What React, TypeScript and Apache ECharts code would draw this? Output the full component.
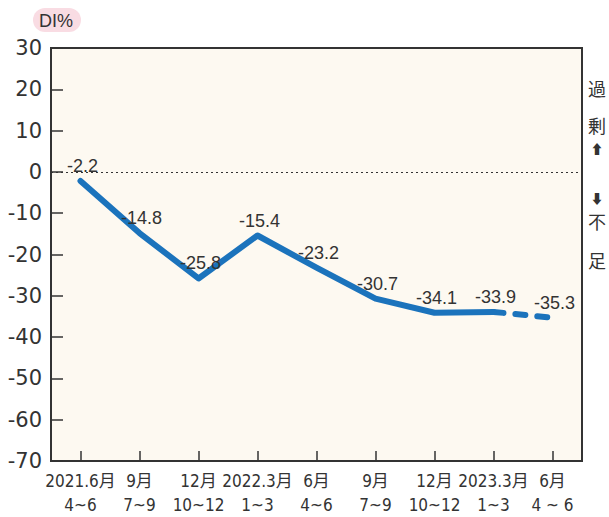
import React, { useEffect, useRef } from "react";
import * as echarts from "echarts";

const categories = [
  "2021.6月\n4~6",
  "9月\n7~9",
  "12月\n10~12",
  "2022.3月\n1~3",
  "6月\n4~6",
  "9月\n7~9",
  "12月\n10~12",
  "2023.3月\n1~3",
  "6月\n4 ~ 6",
];
const actualValues = [-2.2, -14.8, -25.8, -15.4, -23.2, -30.7, -34.1, -33.9, null];
const forecastValues = [null, null, null, null, null, null, null, -33.9, -35.3];
const yMin = -70;
const yMax = 30;
const yInterval = 10;

const BLUE = "#1b73bc";
const DARK = "#333333";

export default function App() {
  const ref = useRef<HTMLDivElement>(null);
  useEffect(() => {
    document.body.style.margin = "0";
    const chart = echarts.init(ref.current!, null, { renderer: "svg" });
    const labelStyle = {
      show: true,
      position: "top" as const,
      distance: 6,
      offset: [2, 0],
      fontSize: 18,
      color: DARK,
      fontFamily: "Liberation Sans, Arial, sans-serif",
    };
    chart.setOption({
      animation: false,
      backgroundColor: "#ffffff",
      grid: {
        left: 51,
        top: 48,
        width: 531,
        height: 416,
        show: true,
        z: 0,
        backgroundColor: "#fdf9f1",
        borderColor: DARK,
        borderWidth: 2,
      },
      xAxis: {
        type: "category",
        data: categories,
        boundaryGap: true,
        z: 5,
        axisLine: { onZero: false, lineStyle: { color: DARK, width: 2 } },
        axisTick: { show: true, inside: true, alignWithLabel: true, length: 10, lineStyle: { color: DARK, width: 1.5 } },
        axisLabel: {
          interval: 0,
          color: DARK,
          fontSize: 17,
          lineHeight: 24,
          margin: 8,
          fontFamily: "DejaVu Sans Condensed, Liberation Sans Narrow, Noto Sans CJK JP, sans-serif",
        },
        splitLine: { show: false },
      },
      yAxis: {
        type: "value",
        min: yMin,
        max: yMax,
        interval: yInterval,
        z: 5,
        axisLine: { show: true, lineStyle: { color: DARK, width: 2 } },
        axisTick: { show: true, inside: true, length: 12, lineStyle: { color: DARK, width: 1.5 } },
        axisLabel: {
          color: DARK,
          fontSize: 21,
          margin: 9,
          fontFamily: "DejaVu Sans, sans-serif",
        },
        splitLine: { show: false },
      },
      graphic: [
        {
          type: "rect",
          shape: { x: 33, y: 8, width: 48, height: 24, r: 12 },
          style: { fill: "#f9dce3" },
        },
        {
          type: "text",
          x: 56,
          y: 21,
          style: {
            text: "DI%",
            fontSize: 18,
            fill: DARK,
            align: "center",
            verticalAlign: "middle",
            fontFamily: "Liberation Sans, Arial, sans-serif",
          },
        },
        ...[
          { t: "過", y: 88 },
          { t: "剰", y: 125 },
          { t: "⬆", y: 148 },
          { t: "⬇", y: 197 },
          { t: "不", y: 221 },
          { t: "足", y: 260 },
        ].map((it) => ({
          type: "text",
          x: 597,
          y: it.y,
          style: {
            text: it.t,
            fontSize: it.t === "⬆" || it.t === "⬇" ? 13 : 18,
            fill: DARK,
            align: "center",
            verticalAlign: "middle",
            fontFamily: "Noto Sans CJK JP, DejaVu Sans, sans-serif",
          },
        })),
      ],
      series: [
        {
          type: "line",
          data: actualValues,
          symbol: "circle",
          symbolSize: 0,
          showSymbol: true,
          itemStyle: { color: BLUE },
          lineStyle: { color: BLUE, width: 6, cap: "round", join: "round" },
          label: labelStyle,
          markLine: {
            silent: true,
            symbol: "none",
            label: { show: false },
            lineStyle: { color: DARK, type: [2, 3], width: 1.2 },
            data: [{ yAxis: 0 }],
          },
          z: 3,
        },
        {
          type: "line",
          data: forecastValues,
          symbol: "circle",
          symbolSize: 0,
          showSymbol: true,
          itemStyle: { color: BLUE },
          lineStyle: { color: BLUE, width: 6, type: [10, 12], cap: "round" },
          label: {
            ...labelStyle,
            formatter: (p: any) => (p.dataIndex === 8 ? String(p.value) : ""),
          },
          z: 2,
        },
      ],
    });
    return () => chart.dispose();
  }, []);
  return <div ref={ref} style={{ width: 609, height: 517 }} />;
}
